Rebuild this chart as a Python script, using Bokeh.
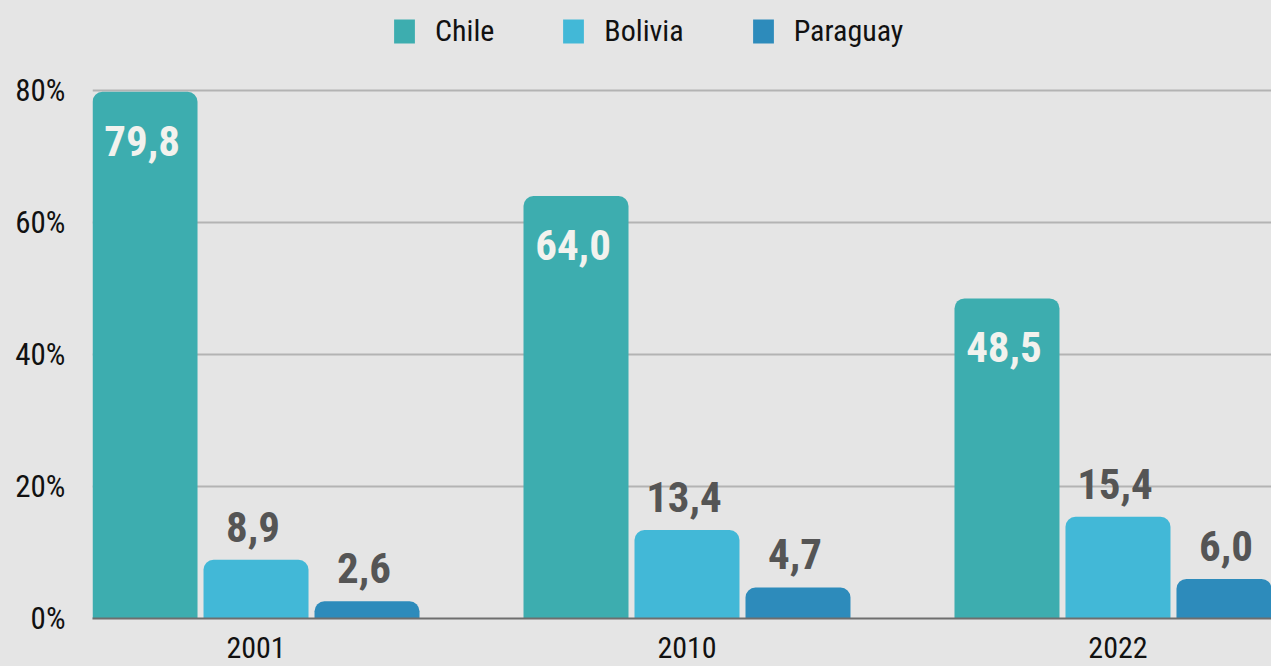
from bokeh.plotting import figure
from bokeh.models import (ColumnDataSource, Range1d, FixedTicker, PrintfTickFormatter,
                          Legend, LegendItem)
from bokeh.core.properties import value
from bokeh.embed import file_html
from bokeh.resources import INLINE

# ---- data ----
years = ["2001", "2010", "2022"]
countries = ["Chile", "Bolivia", "Paraguay"]
chile = [79.8, 64.0, 48.5]
bolivia = [8.9, 13.4, 15.4]
paraguay = [2.6, 4.7, 6.0]
colors = ["#3dadaf", "#42b8d7", "#2d8bbb"]
y_ticks = [0, 20, 40, 60, 80]

series = [chile, bolivia, paraguay]

FONT = "Roboto Condensed"
BG = "#e5e5e5"

# frame spans from y=10 to y=618 (px); 80% gridline sits at ~90px
p = figure(width=1271, height=666, output_backend="svg", toolbar_location=None,
           x_range=Range1d(-0.3794, 2.3562), y_range=Range1d(0, 92.12),
           background_fill_color=BG, background_fill_alpha=0, border_fill_color=BG,
           min_border_left=92, min_border_right=0, min_border_top=10, min_border_bottom=48)
p.outline_line_color = None

group_x = list(range(len(years)))
step = 111 / 431
bar_w = 105 / 431

renderers = []
for s, (name, vals, col) in enumerate(zip(countries, series, colors)):
    xs = [g + (s - 1) * step for g in group_x]
    src = ColumnDataSource(dict(x=xs, top=vals,
                                label=[f"{v:.1f}".replace(".", ",") for v in vals]))
    r = p.vbar(x="x", top="top", width=bar_w, bottom=0, source=src,
               fill_color=col, line_color=None, border_radius=(10, 10, 0, 0))
    renderers.append(r)
    inside = s == 0
    p.text(x="x", y="top", text="label", source=src,
           text_font=value(FONT), text_align="center",
           text_baseline="alphabetic", text_font_size="43px", text_font_style="bold",
           text_color="#f2f2ee" if inside else "#555555",
           x_offset=-3, y_offset=49 if inside else -33)

# axes
p.yaxis.ticker = FixedTicker(ticks=y_ticks)
p.yaxis.formatter = PrintfTickFormatter(format="%d%%")
p.yaxis.axis_line_color = None
p.yaxis.major_tick_line_color = None
p.yaxis.minor_tick_line_color = None
p.yaxis.major_label_text_font = FONT
p.yaxis.major_label_text_font_size = "31px"
p.yaxis.major_label_text_color = "#111111"
p.yaxis.major_label_standoff = 21

p.xaxis.ticker = FixedTicker(ticks=group_x)
p.xaxis.major_label_overrides = {g: y for g, y in zip(group_x, years)}
p.xaxis.axis_line_color = "#6e6e6e"
p.xaxis.axis_line_width = 2
p.xaxis.major_tick_line_color = None
p.xaxis.minor_tick_line_color = None
p.xaxis.major_label_text_font = FONT
p.xaxis.major_label_text_font_size = "30px"
p.xaxis.major_label_text_color = "#111111"
p.xaxis.major_label_standoff = 12

p.xgrid.grid_line_color = None
p.ygrid.ticker = FixedTicker(ticks=y_ticks)
p.ygrid.grid_line_color = "#b3b3b3"
p.ygrid.grid_line_width = 2

# legend at the top of the plot frame
legend = Legend(items=[LegendItem(label=n, renderers=[r]) for n, r in zip(countries, renderers)],
                orientation="horizontal", location=(299, 570),
                background_fill_alpha=0, border_line_color=None, padding=0, margin=0,
                spacing=66, glyph_width=26, glyph_height=30, label_standoff=18,
                label_text_font=FONT, label_text_font_size="30px",
                label_text_color="#111111")
p.add_layout(legend, "center")

template = """{% block preamble %}<style>html, body { background: #e5e5e5; overflow: hidden; }</style>{% endblock %}"""
open("out.html", "w").write(file_html(p, INLINE, template=template))
